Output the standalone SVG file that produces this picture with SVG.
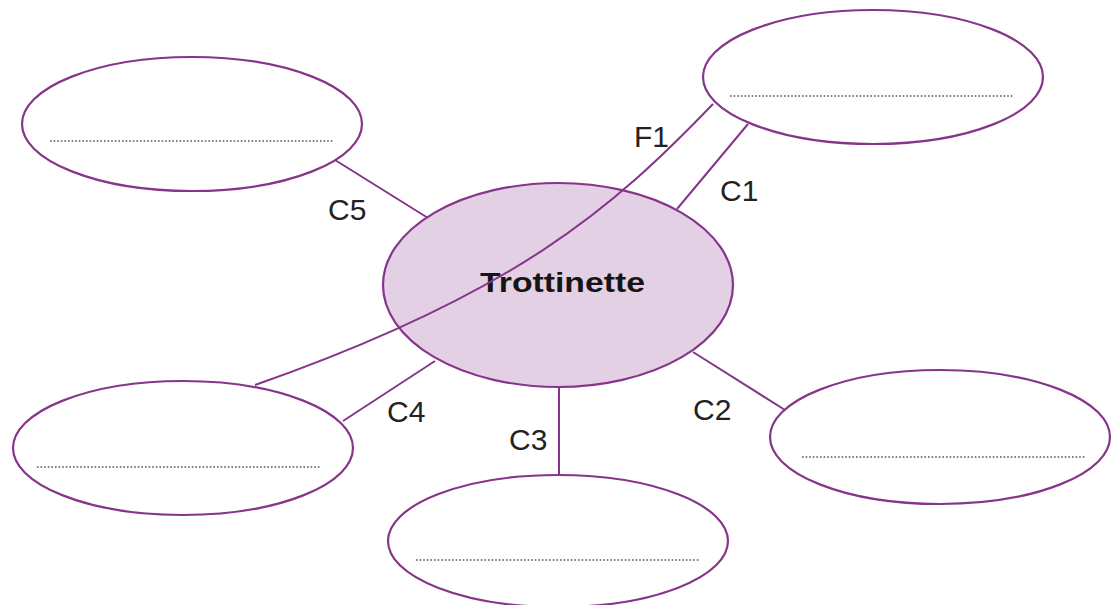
<svg xmlns="http://www.w3.org/2000/svg" width="1116" height="605" viewBox="0 0 1116 605">
  <style>
    .link { stroke: #86358a; stroke-width: 2; fill: none; }
    .bubble { fill: #ffffff; stroke: #86358a; stroke-width: 2.2; }
    .hub { fill: #e3d0e5; stroke: #86358a; stroke-width: 2.2; }
    .dots { stroke: #555555; stroke-width: 1.3; stroke-dasharray: 1.6 2; fill: none; }
    .lbl { font-family: "Liberation Sans", Arial, sans-serif; font-size: 30px; fill: #222222; }
    .title { font-family: "Liberation Sans", Arial, sans-serif; font-weight: bold; font-size: 28px; fill: #151515; }
  </style>
  <rect width="1116" height="605" fill="#ffffff"/>

  <!-- connectors between the hub and the outer bubbles -->
  <g id="connectors">
    <line class="link" x1="335" y1="160" x2="428" y2="218"/>
    <line class="link" x1="748" y1="124" x2="677" y2="209"/>
    <line class="link" x1="693" y1="352" x2="785" y2="410"/>
    <line class="link" x1="559" y1="388" x2="559" y2="476"/>
    <line class="link" x1="343" y1="421" x2="435" y2="361"/>
  </g>

  <!-- outer bubbles -->
  <g id="node-top-left">
    <ellipse class="bubble" cx="192" cy="124" rx="170" ry="67"/>
    <line class="dots" x1="50" y1="141" x2="334" y2="141"/>
  </g>
  <g id="node-top-right">
    <ellipse class="bubble" cx="873" cy="77" rx="170" ry="67"/>
    <line class="dots" x1="730" y1="96" x2="1014" y2="96"/>
  </g>
  <g id="node-bottom-left">
    <ellipse class="bubble" cx="183" cy="448" rx="170" ry="67"/>
    <line class="dots" x1="37" y1="467" x2="321" y2="467"/>
  </g>
  <g id="node-bottom">
    <ellipse class="bubble" cx="558" cy="541" rx="170" ry="66"/>
    <line class="dots" x1="416" y1="560" x2="699" y2="560"/>
  </g>
  <g id="node-bottom-right">
    <ellipse class="bubble" cx="940" cy="437" rx="170" ry="67"/>
    <line class="dots" x1="802" y1="457" x2="1086" y2="457"/>
  </g>

  <!-- central hub -->
  <g id="node-hub">
    <ellipse class="hub" cx="558" cy="285" rx="175" ry="102"/>
    <text class="title" x="480" y="292" textLength="165" lengthAdjust="spacingAndGlyphs">Trottinette</text>
  </g>

  <!-- F1 link: curves across the hub from the top-right bubble to the bottom-left one -->
  <g id="connector-f1">
    <path class="link" d="M713,104 C613,208 515,294 255,385"/>
  </g>

  <!-- connector labels -->
  <g id="labels">
    <text class="lbl" x="328" y="220">C5</text>
    <text class="lbl" x="634" y="147">F1</text>
    <text class="lbl" x="720" y="201">C1</text>
    <text class="lbl" x="693" y="420">C2</text>
    <text class="lbl" x="509" y="450">C3</text>
    <text class="lbl" x="387" y="422">C4</text>
  </g>
</svg>
